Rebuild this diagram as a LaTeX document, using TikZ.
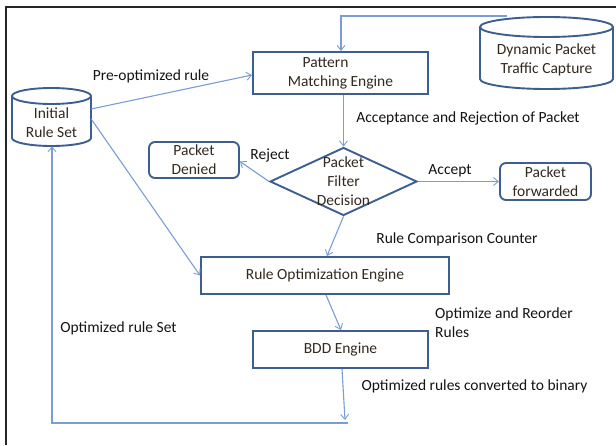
\documentclass[tikz,border=0pt]{standalone}
\usepackage{fontspec}
\setmainfont{Carlito}
\usetikzlibrary{arrows.meta,shapes.geometric}
\definecolor{boxc}{HTML}{3D5F8F}
\definecolor{conc}{HTML}{7A9ED3}
\definecolor{ntext}{HTML}{33291F}
\definecolor{ltext}{HTML}{141414}
\tikzset{
  every node/.style={font=\fontsize{15.5}{19}\selectfont},
  boxnode/.style={draw=boxc, line width=1.9pt, rectangle, inner sep=0pt, align=center, text=ntext},
  rbox/.style={boxnode, rounded corners=6pt},
  cylbody/.style={inner sep=0pt, align=center, text=ntext},
  cylline/.style={draw=boxc, line width=1.9pt},
  conn/.style={draw=conc, line width=1.1pt},
  arr/.style={conn, -{Straight Barb[length=5pt,width=8pt,line width=0.9pt]}},
  lbl/.style={text=ltext, inner sep=0pt}
}
\begin{document}
\begin{tikzpicture}[x=1pt,y=1pt]
\useasboundingbox (0,0) rectangle (616,445);
\fill[white] (0,0) rectangle (616,445);
% frame
\draw[line width=1.2pt, black!85] (6,0) -- (6,438) -- (617,438);

% Initial Rule Set cylinder
\draw[cylline] (12,349) -- (12,307) arc[start angle=180,end angle=360,x radius=39.5,y radius=8] -- (91,349);
\draw[cylline] (51.5,349) ellipse[x radius=39.5,y radius=8];
\node[cylbody, minimum width=79pt, minimum height=47pt] (init) at (51.5,322.5) {Initial\\Rule Set};

% Dynamic Packet Traffic Capture cylinder
\draw[cylline] (480,418) -- (480,366) arc[start angle=180,end angle=360,x radius=66.5,y radius=10] -- (613,418);
\draw[cylline] (546.5,418) ellipse[x radius=66.5,y radius=10];
\node[cylbody, minimum width=133pt, minimum height=52pt] (dyn) at (546.5,385.5) {Dynamic Packet\\Traffic Capture};
\coordinate (dyntap) at (507,429);

% Pattern Matching Engine
\node[boxnode, minimum width=175pt, minimum height=42pt] (pat) at (340.5,372) {Pattern\hspace*{30pt}\\Matching Engine};

% Diamond
\node[diamond, draw=boxc, line width=1.9pt, inner sep=0pt, minimum width=147pt, minimum height=68pt,
      label={[text=ntext, align=center, inner sep=0pt]center:{Packet\\Filter\\Decision}}] (dia) at (343.5,263.5) {};

% Packet Denied / forwarded
\node[rbox, minimum width=90pt, minimum height=36pt] (den) at (194,285) {Packet\\Denied};
\node[rbox, minimum width=91pt, minimum height=37pt] (fwd) at (545.5,263.5) {Packet\\forwarded};

% Rule Optimization Engine
\node[boxnode, minimum width=248pt, minimum height=37pt] (rop) at (325,169.5) {Rule Optimization Engine};

% BDD Engine
\node[boxnode, minimum width=175pt, minimum height=37pt] (bdd) at (340.5,95.5) {BDD Engine};

% feedback coordinates
\coordinate (bddend) at (345,25);
\coordinate (fbR) at (348,22);
\coordinate (fbL) at (52,22);

% connectors
\draw[arr] (dyntap) -| ([xshift=0.5pt]pat.north);
\draw[arr] ([yshift=13.5pt]init.east) -- ([yshift=-2pt]pat.west);
\draw[arr] (dia.north |- pat.south) -- (dia.north);
\draw[arr] (dia.west) -- ([yshift=-1.5pt]den.east);
\draw[arr] (dia.east) -- (fwd.west);
\draw[arr] (dia.south) -- ([xshift=2pt]rop.north);
\draw[arr] ([yshift=3.5pt]init.east) -- (rop.west);
\draw[arr] ([xshift=1pt]rop.south) -- ([xshift=0.5pt]bdd.north);
\draw[arr] ([xshift=1.5pt]bdd.south) -- (bddend);
\draw[arr] (fbR) -| (fbL |- init.south);

% labels
\node[lbl] (l1) at (151,369) {Pre-optimized rule};
\node[lbl] (l2) at (468,327) {Acceptance and Rejection of Packet};
\node[lbl] (l3) at (270,290) {Reject};
\node[lbl] (l4) at (450,274) {Accept};
\node[lbl] (l5) at (457,206) {Rule Comparison Counter};
\node[lbl, anchor=west, align=left] (l6) at (435,122.5) {Optimize and Reorder\\Rules};
\node[lbl] (l7) at (474.5,59) {Optimized rules converted to binary};
\node[lbl] (l8) at (118.5,117) {Optimized rule Set};
\end{tikzpicture}
\end{document}
